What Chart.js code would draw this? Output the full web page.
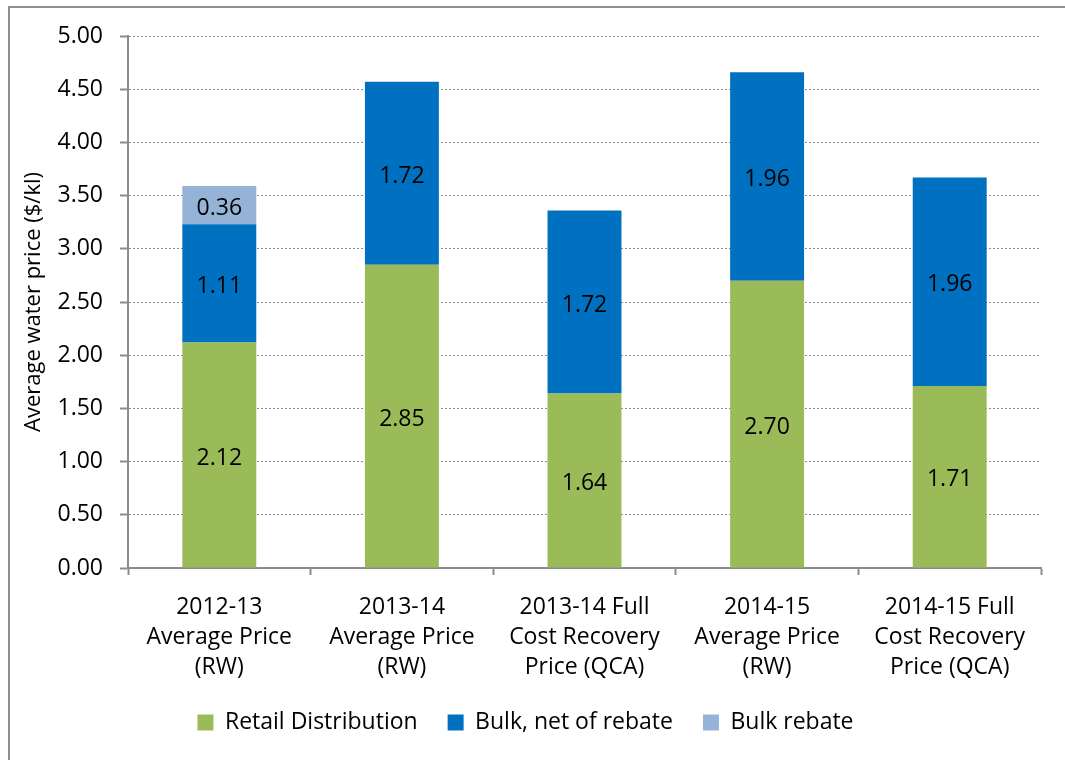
<!DOCTYPE html>
<html>
<head>
<meta charset="utf-8">
<script src="https://cdn.jsdelivr.net/npm/chart.js@4/dist/chart.umd.min.js"></script>
<style>
  body { margin: 0; background: #fff; }
  #frame { position: absolute; left: 8px; top: 6px; width: 1100px; height: 800px; border: 2px solid #8f8f8f; }
  #wrap { position: absolute; left: 0; top: 0; width: 1065px; height: 760px; }
</style>
</head>
<body>
<div id="frame"></div>
<div id="wrap"><canvas id="price-chart" width="1065" height="760"></canvas></div>
<script>
// categories and values
const categories = [
    ['2012-13', 'Average Price', '(RW)'],
    ['2013-14', 'Average Price', '(RW)'],
    ['2013-14 Full', 'Cost Recovery', 'Price (QCA)'],
    ['2014-15', 'Average Price', '(RW)'],
    ['2014-15 Full', 'Cost Recovery', 'Price (QCA)']
];
const retailDistribution = [2.12, 2.85, 1.64, 2.70, 1.71];
const bulkNetOfRebate = [1.11, 1.72, 1.72, 1.96, 1.96];
const bulkRebate = [0.36, 0, 0, 0, 0];

const FONT = "'Open Sans', 'Noto Sans', sans-serif";

// writes the value in the middle of each stacked segment
const segmentLabels = {
    id: 'segmentLabels',
    afterDatasetsDraw(chart) {
        const ctx = chart.ctx;
        ctx.save();
        ctx.font = '23px ' + FONT;
        ctx.fillStyle = '#000';
        ctx.textAlign = 'center';
        ctx.textBaseline = 'middle';
        chart.data.datasets.forEach((ds, i) => {
            const meta = chart.getDatasetMeta(i);
            meta.data.forEach((bar, j) => {
                const v = ds.data[j];
                if (!v) return;
                const p = bar.getProps(['x', 'y', 'base'], true);
                ctx.fillText(v.toFixed(2), p.x, (p.y + p.base) / 2 + 3);
            });
        });
        ctx.restore();
    }
};

const ctx = document.getElementById('price-chart').getContext('2d');
const myChart = new Chart(ctx, {
    type: 'bar',
    data: {
        labels: categories,
        datasets: [{
            label: 'Retail Distribution',
            backgroundColor: '#9BBB59',
            data: retailDistribution
        }, {
            label: 'Bulk, net of rebate',
            backgroundColor: '#0070C0',
            data: bulkNetOfRebate
        }, {
            label: 'Bulk rebate',
            backgroundColor: '#95B3D7',
            data: bulkRebate
        }]
    },
    options: {
        responsive: false,
        animation: false,
        layout: { padding: { left: 10, right: 24, top: 36, bottom: 16 } },
        datasets: { bar: { categoryPercentage: 1, barPercentage: 0.405 } },
        plugins: {
            legend: {
                position: 'bottom',
                labels: {
                    boxWidth: 16,
                    boxHeight: 16,
                    padding: 30,
                    color: '#000',
                    font: { family: FONT, size: 23 }
                }
            },
            tooltip: { enabled: false }
        },
        scales: {
            x: {
                stacked: true,
                afterFit: s => { s.height = 113; },
                grid: { drawOnChartArea: false, offset: true, tickLength: 7, color: '#8c8c8c', tickWidth: 2 },
                border: { color: '#8c8c8c', width: 2 },
                ticks: {
                    color: '#000',
                    padding: 18,
                    maxRotation: 0,
                    font: { family: FONT, size: 23, lineHeight: 1.3 }
                }
            },
            y: {
                stacked: true,
                min: 0,
                max: 5,
                afterFit: s => { s.width = 118; },
                grid: { color: '#8c8c8c', lineWidth: 1, tickLength: 8, tickColor: '#8c8c8c', tickWidth: 2 },
                border: { color: '#8c8c8c', width: 2, dash: [2, 2] },
                ticks: {
                    stepSize: 0.5,
                    color: '#000',
                    padding: 17,
                    font: { family: FONT, size: 23 },
                    callback: v => v.toFixed(2)
                },
                title: {
                    display: true,
                    text: 'Average water price ($/kl)',
                    color: '#000',
                    padding: { top: 11, bottom: 4 },
                    font: { family: FONT, size: 22 }
                }
            }
        }
    },
    plugins: [segmentLabels]
});
</script>
</body>
</html>
